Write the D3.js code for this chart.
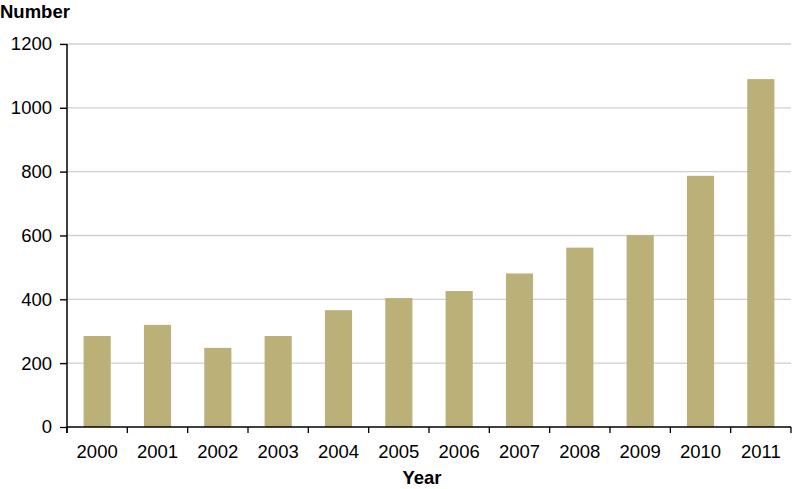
<!DOCTYPE html>
<html><head><meta charset="utf-8">
<script src="https://cdn.jsdelivr.net/npm/d3@7"></script>
<style>body{margin:0;background:#fff}text{font-family:"Liberation Sans",Arial,sans-serif}</style>
</head><body><svg id="c" width="792" height="489"></svg>
<script>
const years = ["2000","2001","2002","2003","2004","2005","2006","2007","2008","2009","2010","2011"];
const values = [285, 320, 248, 285, 366, 404, 426, 481, 562, 601, 787, 1090];
const yTicks = [0, 200, 400, 600, 800, 1000, 1200];

const svg = d3.select("#c");
const L = 67, R = 791, T = 44, B = 427;
const x = d3.scaleBand().domain(years).range([L, R]).paddingInner(0.55).paddingOuter(0.275);
const xb = d3.scaleBand().domain(years).range([L, R]);
const y = d3.scaleLinear().domain([0, 1200]).range([B, T]);

// gridlines
svg.append("g").selectAll("line").data(yTicks.slice(1)).join("line")
  .attr("x1", 60).attr("x2", R).attr("y1", d => y(d)).attr("y2", d => y(d))
  .attr("stroke", "#cfcfcf").attr("stroke-width", 1.3);

// bars
svg.append("g").selectAll("rect").data(values).join("rect")
  .attr("x", (d, i) => x(years[i])).attr("width", x.bandwidth())
  .attr("y", d => y(d)).attr("height", d => B - y(d))
  .attr("fill", "#bbb077");

// y axis
const ya = svg.append("g").attr("transform", `translate(${L},0)`)
  .call(d3.axisLeft(y).tickValues(yTicks).tickFormat(d3.format("d")).tickSize(7).tickPadding(8));
ya.select(".domain").remove();
ya.selectAll(".tick line").attr("stroke", "#000").attr("stroke-width", 1.3);
ya.selectAll(".tick text").attr("font-size", 18.5).attr("fill", "#000")
  .attr("font-family", "Liberation Sans, Arial, sans-serif");
svg.append("line").attr("x1", L).attr("x2", L).attr("y1", T).attr("y2", B + 6)
  .attr("stroke", "#000").attr("stroke-width", 1.5);

// x axis
svg.append("line").attr("x1", L).attr("x2", R).attr("y1", B).attr("y2", B)
  .attr("stroke", "#000").attr("stroke-width", 1.5);
const bounds = years.map(d => xb(d)).concat([R]);
svg.append("g").selectAll("line").data(bounds).join("line")
  .attr("x1", d => d).attr("x2", d => d).attr("y1", B).attr("y2", B + 6)
  .attr("stroke", "#000").attr("stroke-width", 1.3);
svg.append("g").selectAll("text").data(years).join("text")
  .attr("x", d => xb(d) + xb.bandwidth() / 2).attr("y", 458)
  .attr("text-anchor", "middle").attr("font-size", 18.5).attr("fill", "#000")
  .text(d => d);

// titles
svg.append("text").attr("x", 0).attr("y", 18).attr("font-size", 18.5)
  .attr("font-weight", "bold").attr("fill", "#000").text("Number");
svg.append("text").attr("x", 422).attr("y", 484).attr("text-anchor", "middle")
  .attr("font-size", 18.5).attr("font-weight", "bold").attr("fill", "#000").text("Year");
</script></body></html>
